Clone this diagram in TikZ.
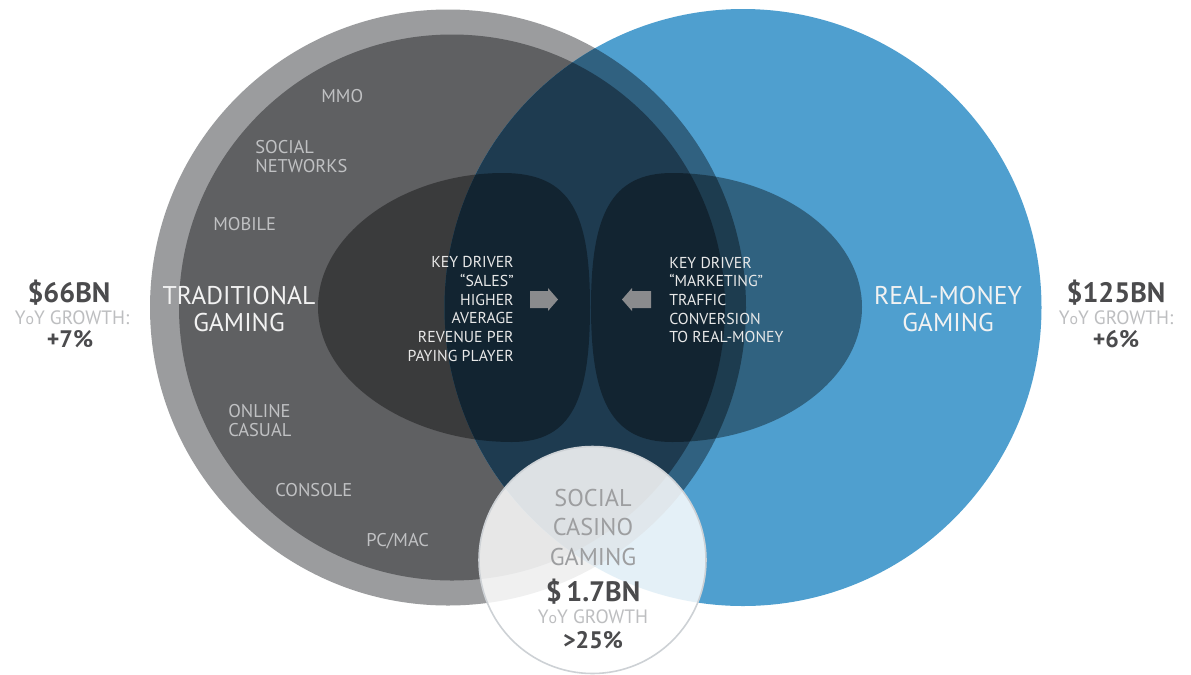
\documentclass[tikz,border=0pt]{standalone}
\usepackage{fontspec}
\setmainfont{PT Sans}
\definecolor{ringgray}{HTML}{9B9C9E}
\definecolor{tradgray}{HTML}{5F6062}
\definecolor{rmblue}{HTML}{4F9FCF}
\definecolor{ringblue}{HTML}{306180}
\definecolor{deepblue}{HTML}{1E3B50}
\definecolor{arrowgray}{HTML}{8A8B8D}
\definecolor{labelgray}{HTML}{C0C1C3}
\definecolor{numgray}{HTML}{4B4B4D}
\definecolor{yoygray}{HTML}{BDBEC0}
\definecolor{casinogray}{HTML}{9D9EA0}
\definecolor{casinoline}{HTML}{CDD1D5}
\begin{document}
\begin{tikzpicture}[x=0.02cm, y=-0.02cm, line join=round, line cap=round,
	lbl/.style={text=labelgray, align=left, anchor=west, inner sep=0pt, font=\fontsize{10.5}{10.8}\selectfont},
	title/.style={text=white!95!black, align=center, inner sep=0pt, font=\fontsize{14.6}{15.9}\selectfont},
	driver/.style={text=white!91!black, inner sep=0pt, font=\fontsize{9}{10.6}\selectfont},
	bignum/.style={text=numgray, inner sep=0pt, font=\bfseries\fontsize{16}{18}\selectfont},
	yoy/.style={text=yoygray, inner sep=0pt, font=\fontsize{11}{12}\selectfont},
	growth/.style={text=numgray, inner sep=0pt, font=\bfseries\fontsize{13.6}{15}\selectfont}]
	\def\cy{307.5} % common centre height
	\def\ygrowth{{\fontsize{9}{9}\selectfont o}}
	\fill[white] (0,0) rectangle (1191,674);
	\useasboundingbox (0,0) rectangle (1191,674);
	% traditional gaming
	\fill[ringgray] (448,\cy) circle[radius=298];
	\fill[tradgray] (452,\cy) circle[radius=273];
	% real-money gaming
	\fill[rmblue] (743,\cy) circle[radius=298.5];
	\begin{scope}
		\clip (743,\cy) circle[radius=298.5];
		\fill[ringblue] (448,\cy) circle[radius=298];
		\fill[deepblue] (452,\cy) circle[radius=273];
	\end{scope}
	% key driver lenses
	\fill[black, opacity=0.38] (318,307) .. controls (318,233) and (405,173) .. (503,173)
		.. controls (572,173) and (590,215) .. (590,307)
		.. controls (590,399) and (572,442) .. (512,442)
		.. controls (410,442) and (318,382) .. (318,307) -- cycle;
	\fill[black, opacity=0.38] (862,307) .. controls (862,233) and (775,173) .. (672,173)
		.. controls (611,173) and (591,215) .. (591,307)
		.. controls (591,399) and (611,442) .. (672,442)
		.. controls (775,442) and (862,382) .. (862,307) -- cycle;
	\fill[arrowgray] (530,291) -- (548,291) -- (548,288) -- (558,299.5) -- (548,311) -- (548,308) -- (530,308) -- cycle;
	\fill[arrowgray] (651,291) -- (632,291) -- (632,288) -- (622,299.5) -- (632,311) -- (632,308) -- (651,308) -- cycle;
	% social casino gaming
	\fill[white, opacity=0.85] (592.5,560) circle[radius=113.5];
	\draw[casinoline, line width=0.9pt] (592.5,560) circle[radius=113.5];
	% segment labels
	\node[lbl] (mmo) at (321,96) {MMO};
	\node[lbl] (socialnet) at (255,156.5) {SOCIAL\\NETWORKS};
	\node[lbl] (mobile) at (213,224) {MOBILE};
	\node[lbl] (casual) at (228,420.5) {ONLINE\\CASUAL};
	\node[lbl] (console) at (275,490) {CONSOLE};
	\node[lbl] (pcmac) at (366,541) {PC/MAC};
	\node[title] (tradtitle) at (239,309) {TRADITIONAL\\GAMING};
	\node[title] (rmtitle) at (948,309) {REAL-MONEY\\GAMING};
	\node[driver, align=right, anchor=east] (sales) at (514,309)
		{KEY DRIVER\\“SALES”\\HIGHER\\AVERAGE\\REVENUE PER\\PAYING PLAYER};
	\node[driver, align=left, anchor=west] (marketing) at (669,300)
		{KEY DRIVER\\“MARKETING”\\TRAFFIC\\CONVERSION\\TO REAL-MONEY};
	% market sizes
	\node[bignum] (tradsize) at (69,293) {\$66BN};
	\node[yoy] (tradyoy) at (72,318) {Y\ygrowth Y GROWTH:};
	\node[growth] (tradgrowth) at (70,339) {+7\%};
	\node[bignum] (rmsize) at (1116,293) {\$125BN};
	\node[yoy] (rmyoy) at (1116,318) {Y\ygrowth Y GROWTH:};
	\node[growth] (rmgrowth) at (1116,339) {+6\%};
	\node[text=casinogray, align=center, inner sep=0pt, font=\fontsize{13.8}{16.7}\selectfont] (casino) at (593,527.5) {SOCIAL\\CASINO\\GAMING};
	\node[bignum] (casinosize) at (593,592) {\$\,1.7BN};
	\node[yoy] (casinoyoy) at (593,617) {Y\ygrowth Y GROWTH};
	\node[growth] (casinogrowth) at (593,640) {>25\%};
\end{tikzpicture}
\end{document}
